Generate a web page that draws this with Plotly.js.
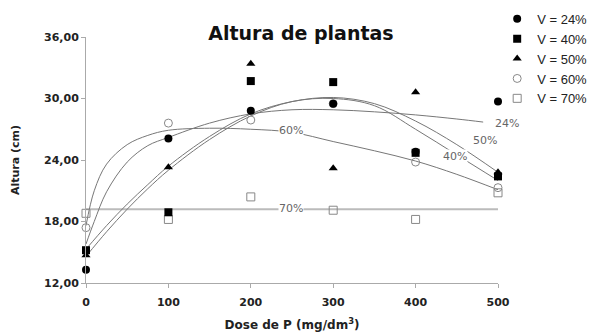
<!DOCTYPE html>
<html>
<head>
<meta charset="utf-8">
<script src="https://cdn.plot.ly/plotly-3.0.1.min.js"></script>
<style>html,body{margin:0;padding:0;background:#fff}#chart{width:589px;height:336px}</style>
</head>
<body>
<div id="chart"></div>
<script>
// Observed data (Dose de P, mg/dm3)
var doses = [0, 100, 200, 300, 400, 500];
var v24 = [13.3, 26.1, 28.8, 29.5, 24.8, 29.7];
var v40 = [15.2, 18.9, 31.7, 31.6, 24.7, 22.4];
var v50 = [14.7, 23.3, 33.4, 23.2, 30.6, 22.8];
var v60 = [17.4, 27.6, 27.9, 29.5, 23.8, 21.3];
var v70 = [18.8, 18.2, 20.4, 19.1, 18.2, 20.8];

// Fitted curves
var fit24x = [0, 10, 25, 50, 75, 100, 150, 200, 250, 300, 350, 400, 450, 482];
var fit24y = [15.8, 18.0, 20.9, 23.8, 25.4, 26.2, 27.6, 28.5, 28.9, 28.9, 28.7, 28.4, 28.0, 27.7];
var fit40x = [0, 25, 50, 75, 100, 150, 200, 250, 300, 350, 400, 450, 500];
var fit40y = [14.6, 17.0, 19.2, 21.2, 23.0, 26.0, 28.3, 29.7, 30.0, 29.3, 27.0, 24.5, 22.0];
var fit50x = [0, 25, 50, 75, 100, 150, 200, 250, 300, 350, 400, 450, 500];
var fit50y = [15.3, 17.6, 19.7, 21.6, 23.4, 26.3, 28.5, 29.7, 30.1, 29.5, 27.8, 25.5, 22.8];
var fit60x = [0, 10, 25, 50, 75, 100, 150, 200, 250, 300, 350, 400, 450, 500];
var fit60y = [17.6, 21.0, 23.6, 25.5, 26.4, 26.9, 27.1, 27.0, 26.7, 25.8, 24.9, 23.9, 22.6, 21.1];
var fit70x = [0, 500];
var fit70y = [19.2, 19.2];

var legendNames = ['V = 24%', 'V = 40%', 'V = 50%', 'V = 60%', 'V = 70%'];
var curveLabels = ['24%', '40%', '50%', '60%', '70%'];
var labelX = [500, 448, 484, 249, 249];
var labelY = [27.6, 24.3, 25.9, 26.9, 19.3];
var labelShift = [9, 0, 0, 0, 0];
var yTicks = [12, 18, 24, 30, 36];
var xTicks = [0, 100, 200, 300, 400, 500];

var FONT = '"DejaVu Sans", Verdana, sans-serif';
var LEGFONT = 'Arial, "Liberation Sans", sans-serif';
var lineGray = '#777';

function fit(x, y, w, c) {
  return {x: x, y: y, mode: 'lines', line: {color: c || lineGray, width: w || 1, shape: 'spline', smoothing: 1}, showlegend: false, hoverinfo: 'skip', cliponaxis: false};
}
function pts(y, name, sym, col, lw, rank) {
  return {x: doses, y: y, name: name, mode: 'markers', cliponaxis: false, legendrank: rank,
    marker: {symbol: sym, size: 8, color: col, line: {color: col, width: lw || 0}}};
}

var traces = [
  fit(fit70x, fit70y, 2, '#bbb'),
  fit(fit24x, fit24y),
  fit(fit40x, fit40y),
  fit(fit50x, fit50y),
  fit(fit60x, fit60y),
  pts(v70, legendNames[4], 'square-open', '#888', 1, 5),
  pts(v60, legendNames[3], 'circle-open', '#888', 1, 4),
  pts(v24, legendNames[0], 'circle', '#000', 0, 1),
  pts(v40, legendNames[1], 'square', '#000', 0, 2),
  pts(v50, legendNames[2], 'triangle-up', '#000', 0, 3)
];

var annotations = curveLabels.map(function (t, i) {
  return {x: labelX[i], y: labelY[i], xshift: labelShift[i], text: t, showarrow: false, xref: 'x', yref: 'y',
    font: {family: FONT, size: 11, color: '#666'}, bgcolor: '#fff', borderpad: 0};
});

var layout = {
  width: 589, height: 336,
  margin: {l: 86, r: 91, t: 37, b: 53, autoexpand: false},
  paper_bgcolor: '#fff', plot_bgcolor: '#fff',
  separators: ',.',
  font: {family: FONT, color: '#222'},
  title: {text: '<b>Altura de plantas</b>', font: {family: FONT, size: 19, color: '#111'}, x: 0.511, xanchor: 'center', y: 0.902, yanchor: 'middle'},
  xaxis: {range: [0, 500], tickvals: xTicks, ticks: 'outside', ticklen: 4, tickcolor: '#aaa',
    showline: true, linecolor: '#aaa', linewidth: 1, showgrid: false, zeroline: false, ticklabelstandoff: 5,
    tickfont: {family: FONT, size: 11, color: '#222', weight: 'bold'},
    title: {text: '<b>Dose de P (mg/dm<sup>3</sup>)</b>', font: {family: FONT, size: 12, color: '#222'}, standoff: 12}},
  yaxis: {range: [12, 36], tickvals: yTicks, tickformat: '.2f', ticks: 'outside', ticklen: 4, tickcolor: '#aaa',
    showline: true, linecolor: '#aaa', linewidth: 1, showgrid: false, zeroline: false,
    tickfont: {family: FONT, size: 11, color: '#222', weight: 'bold'},
    title: {text: '<b>Altura (cm)</b>', font: {family: FONT, size: 11, color: '#222'}, standoff: 22}},
  legend: {x: 0.998, xanchor: 'left', y: 1.135, yanchor: 'top', itemwidth: 30, tracegroupgap: 0, traceorder: 'normal',
    font: {family: LEGFONT, size: 13, color: '#222'}, bgcolor: 'rgba(0,0,0,0)'},
  annotations: annotations
};

Plotly.newPlot('chart', traces, layout, {displayModeBar: false, staticPlot: true});
</script>
</body>
</html>
